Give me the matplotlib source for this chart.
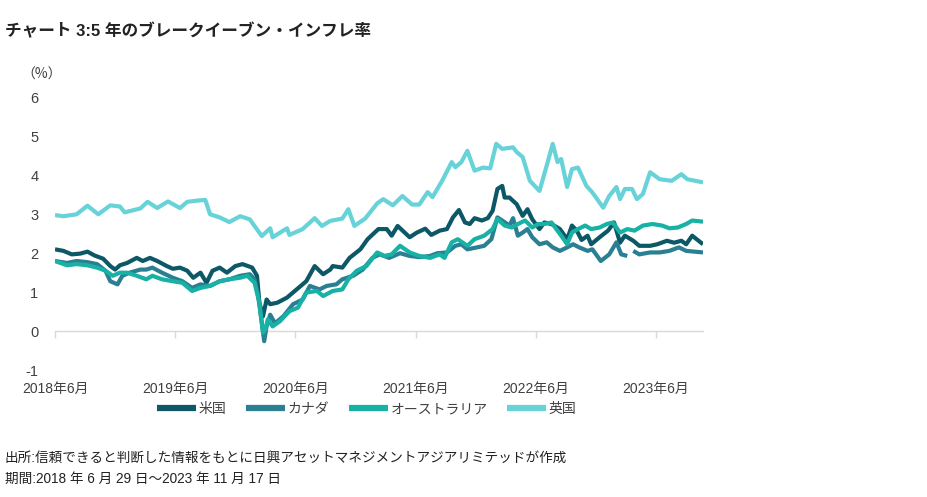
import numpy as np
import matplotlib
matplotlib.use("Agg")
import matplotlib.pyplot as plt
import matplotlib.transforms as mtransforms

plt.rcParams['font.family'] = ['Liberation Sans', 'Noto Sans CJK JP', 'DejaVu Sans']

# ---------------- data (decimal years, %) ----------------
title = "チャート 3:5 年のブレークイーブン・インフレ率"
unit_label = "（%）"
series_names = ["米国", "カナダ", "オーストラリア", "英国"]
colors = ["#0D5866", "#2A7F92", "#17B1A5", "#67D3D9"]
x_tick_years = [2018.49, 2019.49, 2020.49, 2021.49, 2022.49, 2023.49]
x_tick_labels = ["2018年6月", "2019年6月", "2020年6月", "2021年6月", "2022年6月", "2023年6月"]
y_ticks = [-1, 0, 1, 2, 3, 4, 5, 6]
note1 = "出所:信頼できると判断した情報をもとに日興アセットマネジメントアジアリミテッドが作成"
note2 = "期間:2018 年 6 月 29 日～2023 年 11 月 17 日"

us_t = [2018.49, 2018.56, 2018.63, 2018.70, 2018.76, 2018.82, 2018.89, 2018.95, 2018.99, 2019.03,
        2019.09, 2019.17, 2019.22, 2019.28, 2019.34, 2019.42, 2019.47, 2019.53, 2019.59, 2019.64,
        2019.70, 2019.75, 2019.80, 2019.86, 2019.92, 2019.99, 2020.05, 2020.13, 2020.17, 2020.19,
        2020.22, 2020.25, 2020.28, 2020.34, 2020.42, 2020.50, 2020.58, 2020.65, 2020.72, 2020.78,
        2020.80, 2020.88, 2020.94, 2021.03, 2021.09, 2021.18, 2021.25, 2021.29, 2021.34, 2021.44,
        2021.50, 2021.57, 2021.62, 2021.69, 2021.75, 2021.80, 2021.85, 2021.90, 2021.94, 2021.98,
        2022.04, 2022.09, 2022.13, 2022.17, 2022.21, 2022.23, 2022.27, 2022.33, 2022.38, 2022.42,
        2022.46, 2022.52, 2022.56, 2022.62, 2022.69, 2022.75, 2022.79, 2022.83, 2022.87, 2022.92,
        2022.95, 2023.02, 2023.09, 2023.14, 2023.19, 2023.23, 2023.30, 2023.35, 2023.44, 2023.50,
        2023.58, 2023.64, 2023.70, 2023.74, 2023.79, 2023.88]
us_v = [2.10, 2.06, 1.97, 1.99, 2.04, 1.94, 1.86, 1.67, 1.58, 1.69,
        1.75, 1.88, 1.80, 1.88, 1.80, 1.67, 1.60, 1.63, 1.55, 1.37,
        1.50, 1.24, 1.55, 1.63, 1.50, 1.67, 1.72, 1.63, 1.42, 0.73,
        0.38, 0.81, 0.69, 0.73, 0.86, 1.07, 1.28, 1.67, 1.46, 1.58,
        1.67, 1.63, 1.88, 2.10, 2.36, 2.62, 2.62, 2.45, 2.70, 2.41,
        2.53, 2.63, 2.47, 2.58, 2.62, 2.92, 3.11, 2.79, 2.75, 2.90,
        2.84, 2.90, 3.09, 3.65, 3.73, 3.43, 3.43, 3.26, 2.96, 3.13,
        2.87, 2.62, 2.79, 2.75, 2.62, 2.36, 2.71, 2.58, 2.34, 2.45,
        2.23, 2.41, 2.58, 2.79, 2.27, 2.45, 2.32, 2.19, 2.19, 2.23,
        2.32, 2.27, 2.32, 2.23, 2.45, 2.23]

ca_t = [2018.49, 2018.59, 2018.67, 2018.76, 2018.84, 2018.91, 2018.95, 2019.01, 2019.05, 2019.11,
        2019.20, 2019.25, 2019.30, 2019.38, 2019.47, 2019.55, 2019.63, 2019.70, 2019.78, 2019.86,
        2019.94, 2020.03, 2020.11, 2020.15, 2020.18, 2020.21, 2020.23, 2020.25, 2020.28, 2020.32,
        2020.39, 2020.47, 2020.55, 2020.61, 2020.69, 2020.75, 2020.83, 2020.88, 2020.97, 2021.05,
        2021.13, 2021.19, 2021.27, 2021.36, 2021.44, 2021.52, 2021.61, 2021.67, 2021.75, 2021.82,
        2021.87, 2021.92, 2022.00, 2022.06, 2022.12, 2022.17, 2022.21, 2022.27, 2022.30, 2022.34,
        2022.38, 2022.42, 2022.46, 2022.52, 2022.58, 2022.63, 2022.69, 2022.75, 2022.80, 2022.85,
        2022.92, 2022.96, 2023.03, 2023.10, 2023.16, 2023.20, 2023.25, 2023.27, 2023.30, 2023.35,
        2023.44, 2023.52, 2023.60, 2023.68, 2023.74, 2023.88]
ca_v = [1.80, 1.75, 1.80, 1.77, 1.72, 1.55, 1.28, 1.20, 1.42, 1.50,
        1.58, 1.58, 1.63, 1.50, 1.37, 1.28, 1.11, 1.20, 1.16, 1.28,
        1.33, 1.42, 1.46, 1.33, 0.90, 0.21, -0.26, 0.12, 0.42, 0.20,
        0.38, 0.69, 0.81, 1.16, 1.07, 1.16, 1.20, 1.33, 1.42, 1.58,
        1.88, 1.97, 1.88, 2.00, 1.93, 1.90, 1.93, 2.00, 2.02, 2.19,
        2.23, 2.10, 2.15, 2.19, 2.36, 2.92, 2.84, 2.71, 2.90, 2.45,
        2.53, 2.62, 2.41, 2.23, 2.28, 2.15, 2.06, 2.15, 2.23, 2.15,
        2.06, 2.10, 1.80, 1.97, 2.28, 1.97, 1.93, np.nan, 2.06, 1.97,
        2.02, 2.02, 2.06, 2.15, 2.06, 2.02]

au_t = [2018.49, 2018.59, 2018.67, 2018.76, 2018.84, 2018.91, 2018.97, 2019.03, 2019.09, 2019.17,
        2019.25, 2019.30, 2019.38, 2019.47, 2019.55, 2019.63, 2019.70, 2019.78, 2019.86, 2019.94,
        2020.03, 2020.09, 2020.15, 2020.19, 2020.22, 2020.24, 2020.26, 2020.30, 2020.36, 2020.44,
        2020.51, 2020.58, 2020.67, 2020.72, 2020.80, 2020.88, 2020.93, 2021.00, 2021.08, 2021.17,
        2021.23, 2021.29, 2021.36, 2021.44, 2021.52, 2021.61, 2021.69, 2021.73, 2021.79, 2021.84,
        2021.92, 2021.98, 2022.06, 2022.13, 2022.17, 2022.23, 2022.29, 2022.34, 2022.40, 2022.46,
        2022.51, 2022.56, 2022.62, 2022.66, 2022.71, 2022.75, 2022.79, 2022.84, 2022.90, 2022.95,
        2023.02, 2023.08, 2023.13, 2023.19, 2023.25, 2023.31, 2023.38, 2023.46, 2023.54, 2023.60,
        2023.67, 2023.74, 2023.79, 2023.88]
au_v = [1.80, 1.69, 1.72, 1.69, 1.63, 1.55, 1.42, 1.50, 1.50, 1.42,
        1.33, 1.42, 1.33, 1.28, 1.24, 1.03, 1.11, 1.16, 1.28, 1.33,
        1.37, 1.42, 1.24, 0.73, -0.04, 0.05, 0.30, 0.12, 0.25, 0.51,
        0.60, 0.99, 1.03, 0.90, 1.03, 1.07, 1.33, 1.55, 1.67, 2.02,
        1.93, 1.97, 2.19, 2.02, 1.93, 1.88, 1.97, 1.88, 2.28, 2.36,
        2.19, 2.36, 2.45, 2.62, 2.88, 2.71, 2.66, 2.75, 2.84, 2.66,
        2.75, 2.75, 2.79, 2.62, 2.41, 2.23, 2.53, 2.62, 2.71, 2.62,
        2.66, 2.75, 2.79, 2.53, 2.62, 2.58, 2.71, 2.75, 2.71, 2.64,
        2.66, 2.75, 2.84, 2.81]

uk_t = [2018.49, 2018.56, 2018.67, 2018.76, 2018.85, 2018.95, 2019.03, 2019.07, 2019.20, 2019.26,
        2019.34, 2019.43, 2019.53, 2019.59, 2019.67, 2019.74, 2019.78, 2019.86, 2019.94, 2020.03,
        2020.11, 2020.21, 2020.28, 2020.30, 2020.42, 2020.44, 2020.55, 2020.65, 2020.71, 2020.78,
        2020.88, 2020.93, 2020.98, 2021.07, 2021.17, 2021.22, 2021.30, 2021.38, 2021.46, 2021.52,
        2021.59, 2021.63, 2021.71, 2021.79, 2021.82, 2021.87, 2021.92, 2021.98, 2022.05, 2022.11,
        2022.16, 2022.21, 2022.30, 2022.33, 2022.38, 2022.44, 2022.52, 2022.58, 2022.63, 2022.67,
        2022.70, 2022.75, 2022.79, 2022.84, 2022.91, 2022.96, 2023.05, 2023.10, 2023.16, 2023.19,
        2023.23, 2023.29, 2023.33, 2023.38, 2023.44, 2023.52, 2023.62, 2023.70, 2023.75, 2023.88]
uk_v = [2.98, 2.95, 3.00, 3.22, 3.00, 3.23, 3.20, 3.05, 3.15, 3.32,
        3.16, 3.33, 3.16, 3.32, 3.35, 3.37, 3.00, 2.92, 2.80, 2.95,
        2.87, 2.44, 2.64, 2.41, 2.64, 2.47, 2.62, 2.90, 2.70, 2.83,
        2.89, 3.13, 2.70, 2.89, 3.28, 3.39, 3.23, 3.47, 3.25, 3.25,
        3.57, 3.44, 3.86, 4.34, 4.21, 4.34, 4.63, 4.12, 4.20, 4.18,
        4.81, 4.68, 4.72, 4.60, 4.47, 3.86, 3.60, 4.25, 4.81, 4.34,
        4.42, 3.70, 4.16, 4.20, 3.73, 3.56, 3.17, 3.47, 3.70, 3.39,
        3.65, 3.65, 3.39, 3.52, 4.08, 3.90, 3.86, 4.03, 3.90, 3.82]

all_t = [us_t, ca_t, au_t, uk_t]
all_v = [us_v, ca_v, au_v, uk_v]

# ---------------- figure ----------------
W, H = 928, 497
fig = plt.figure(figsize=(W / 100, H / 100), dpi=100)
ax = fig.add_axes([55 / W, 1 - 370 / H, 648 / W, (370 - 97.5) / H])

lines = []
for t, v, c, n in zip(all_t, all_v, colors, series_names):
    ln, = ax.plot(t, v, color=c, lw=3.0, solid_joinstyle='round', solid_capstyle='butt', label=n)
    lines.append(ln)

ax.set_xlim(2018.49, 2023.88)
ax.set_ylim(-1, 6)
ax.set_yticks(y_ticks)
ax.set_yticklabels([str(y) for y in y_ticks], fontsize=10.5, color="#404040")
ax.tick_params(axis='y', length=0, pad=12)

for s in ['top', 'right', 'left']:
    ax.spines[s].set_visible(False)
ax.spines['bottom'].set_position(('data', 0))
ax.spines['bottom'].set_color('#D9D9D9')
ax.spines['bottom'].set_linewidth(1.0)
ax.spines['bottom'].set_zorder(0.5)
ax.set_xticks(x_tick_years)
ax.tick_params(axis='x', direction='out', length=5, width=1.0, color='#D9D9D9', labelbottom=False)

trans = mtransforms.blended_transform_factory(ax.transData, fig.transFigure)
for xt, lab in zip(x_tick_years, x_tick_labels):
    ax.text(xt, 1 - 389 / H, lab, transform=trans, ha='center', va='center',
            fontsize=10, color='#404040')

fig.text(5 / W, 1 - 31 / H, title, fontsize=12, fontweight='bold', color='#222222',
         ha='left', va='center')
fig.text(21 / W, 1 - 75 / H, unit_label, fontsize=10, color='#404040', ha='left', va='center',
         family=['Noto Sans CJK JP', 'DejaVu Sans'])

fig.legend(handles=lines, labels=series_names, loc='center', ncol=4,
           bbox_to_anchor=(367 / W, 1 - 409 / H), frameon=False, fontsize=10,
           handlelength=2.8, handletextpad=0.2, columnspacing=1.4,
           labelcolor='#404040')
for lh in fig.legends[0].get_lines():
    lh.set_linewidth(4.5)

fig.text(5 / W, 1 - 458 / H, note1, fontsize=9.8, color='#222222', ha='left', va='center')
fig.text(5 / W, 1 - 479 / H, note2, fontsize=9.8, color='#222222', ha='left', va='center')

fig.savefig('out.png', dpi=100)
